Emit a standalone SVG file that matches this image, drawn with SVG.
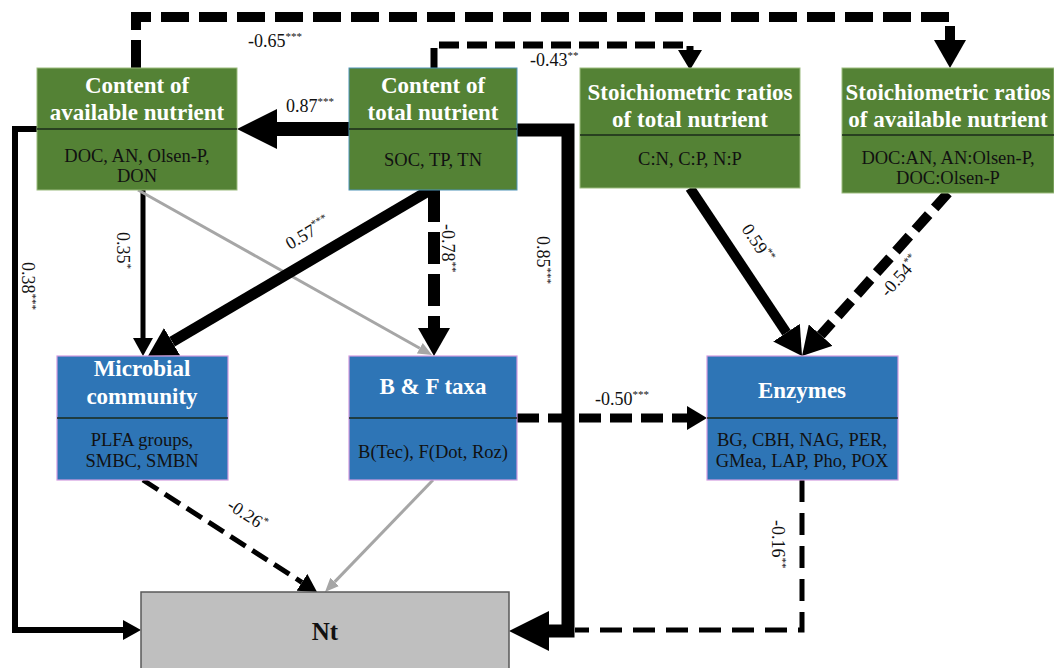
<svg xmlns="http://www.w3.org/2000/svg" width="1054" height="668" viewBox="0 0 1054 668">
<style>
.green{fill:#548235;stroke:#9bbb7f;stroke-width:1}
.blue{fill:#2e75b6;stroke:#d39be0;stroke-width:1.2}
.gray{fill:#bfbfbf;stroke:#595959;stroke-width:1.5}
.div{stroke:#1a2a1a;stroke-width:1.5}
text{font-family:'Liberation Serif','DejaVu Serif',serif}
.title{font-weight:bold;font-size:23px;fill:#ffffff;text-anchor:middle}
.sub{font-size:18.5px;fill:#111111;text-anchor:middle}
.lbl{font-size:18px;fill:#111111}
.sup{font-size:11px}
.c{fill:none;stroke:#000;stroke-linejoin:miter;stroke-linecap:butt}
.g{fill:none;stroke:#a6a6a6;stroke-width:3}
</style>
<defs>
<marker id="aBig" markerUnits="userSpaceOnUse" markerWidth="40" markerHeight="40" viewBox="0 0 40 40" refX="0" refY="20" orient="auto"><path d="M0,0 L40,20 L0,40 z" fill="#000"/></marker>
<marker id="aL" markerUnits="userSpaceOnUse" markerWidth="28" markerHeight="32" viewBox="0 0 28 32" refX="0" refY="16" orient="auto"><path d="M0,0 L28,16 L0,32 z" fill="#000"/></marker>
<marker id="aM" markerUnits="userSpaceOnUse" markerWidth="20" markerHeight="24" viewBox="0 0 20 24" refX="0" refY="12" orient="auto"><path d="M0,0 L20,12 L0,24 z" fill="#000"/></marker>
<marker id="aS" markerUnits="userSpaceOnUse" markerWidth="18" markerHeight="20" viewBox="0 0 18 20" refX="0" refY="10" orient="auto"><path d="M0,0 L18,10 L0,20 z" fill="#000"/></marker>
<marker id="aG" markerUnits="userSpaceOnUse" markerWidth="14" markerHeight="12" viewBox="0 0 14 12" refX="0" refY="6" orient="auto"><path d="M0,0 L14,6 L0,12 z" fill="#a6a6a6"/></marker>
</defs>

<g id="connectors">
<path class="c" d="M136,68 V17 H950 V40" stroke-width="10" stroke-dasharray="28 10" marker-end="url(#aL)"/>
<path class="c" d="M434,68 V45 H690 V50" stroke-width="7" stroke-dasharray="20 8" marker-end="url(#aM)"/>
<path class="c" d="M349,129 H277" stroke-width="14" marker-end="url(#aBig)"/>
<path class="c" d="M517,130 H568 V631 H549" stroke-width="13" marker-end="url(#aBig)"/>
<path class="c" d="M37,129 H15 V630 H123" stroke-width="6" marker-end="url(#aS)"/>
<path class="c" d="M143,190 V338" stroke-width="5" marker-end="url(#aS)"/>
<path class="g" d="M138,190 L419.8,348.2" marker-end="url(#aG)"/>
<path class="c" d="M430,190 L172.1,341.8" stroke-width="11" marker-end="url(#aL)"/>
<path class="c" d="M434,190 V328" stroke-width="12" stroke-dasharray="32 10" marker-end="url(#aL)"/>
<path class="c" d="M690,188 L786.5,332.7" stroke-width="10" marker-end="url(#aL)"/>
<path class="c" d="M948,193 L820.7,335.1" stroke-width="10" stroke-dasharray="20 9" marker-end="url(#aL)"/>
<path class="c" d="M517,418 H687" stroke-width="9" stroke-dasharray="22 9" marker-end="url(#aM)"/>
<path class="c" d="M143,480 L301.9,582.3" stroke-width="5" stroke-dasharray="18 8" marker-end="url(#aS)"/>
<path class="g" d="M433,480 L334.7,581.9" marker-end="url(#aG)"/>
<path class="c" d="M802,480 V630 H575" stroke-width="5" stroke-dasharray="22 11"/>

<text class="lbl" x="248" y="47">-0.65<tspan class="sup" dy="-7">***</tspan></text>
<text class="lbl" x="530" y="66">-0.43<tspan class="sup" dy="-7">**</tspan></text>
<text class="lbl" x="286" y="112">0.87<tspan class="sup" dy="-7">***</tspan></text>
<text class="lbl" transform="translate(22,262) rotate(90)">0.38<tspan class="sup" dy="-7">***</tspan></text>
<text class="lbl" transform="translate(117,232) rotate(90)">0.35<tspan class="sup" dy="-7">*</tspan></text>
<text class="lbl" transform="translate(290,250) rotate(-30.5)">0.57<tspan class="sup" dy="-7">***</tspan></text>
<text class="lbl" transform="translate(442,224) rotate(90)">-0.78<tspan class="sup" dy="-7">**</tspan></text>
<text class="lbl" transform="translate(537,236) rotate(90)">0.85<tspan class="sup" dy="-7">***</tspan></text>
<text class="lbl" transform="translate(741,229) rotate(56)">0.59<tspan class="sup" dy="-7">**</tspan></text>
<text class="lbl" transform="translate(888,298) rotate(-48)">-0.54<tspan class="sup" dy="-7">**</tspan></text>
<text class="lbl" x="595" y="405">-0.50<tspan class="sup" dy="-7">***</tspan></text>
<text class="lbl" transform="translate(226,508) rotate(33)">-0.26<tspan class="sup" dy="-7">*</tspan></text>
<text class="lbl" transform="translate(772,520) rotate(90)">-0.16<tspan class="sup" dy="-7">**</tspan></text>
</g>

<g id="node-available">
<rect class="green" x="37" y="68" width="200" height="122"/>
<line class="div" x1="37" y1="129" x2="237" y2="129"/>
<text class="title" x="137" y="93">Content of</text>
<text class="title" x="137" y="120">available nutrient</text>
<text class="sub" x="137" y="162">DOC, AN, Olsen-P,</text>
<text class="sub" x="137" y="182">DON</text>
</g>

<g id="node-total">
<rect class="green" x="349" y="68" width="168" height="122" style="stroke:#4f93b8"/>
<line class="div" x1="349" y1="129" x2="517" y2="129"/>
<text class="title" x="433" y="93">Content of</text>
<text class="title" x="433" y="120">total nutrient</text>
<text class="sub" x="433" y="166">SOC, TP, TN</text>
</g>

<g id="node-stoich-total">
<rect class="green" x="580" y="68" width="220" height="120"/>
<line class="div" x1="580" y1="135" x2="800" y2="135"/>
<text class="title" x="690" y="100">Stoichiometric ratios</text>
<text class="title" x="690" y="127">of total nutrient</text>
<text class="sub" x="690" y="165">C:N, C:P, N:P</text>
</g>

<g id="node-stoich-available">
<rect class="green" x="842" y="68" width="212" height="125"/>
<line class="div" x1="842" y1="135" x2="1054" y2="135"/>
<text class="title" x="948" y="100">Stoichiometric ratios</text>
<text class="title" x="948" y="127">of available nutrient</text>
<text class="sub" x="948" y="164">DOC:AN, AN:Olsen-P,</text>
<text class="sub" x="948" y="184">DOC:Olsen-P</text>
</g>

<g id="node-microbial">
<rect class="blue" x="57" y="356" width="171" height="124"/>
<line class="div" x1="57" y1="418" x2="228" y2="418"/>
<text class="title" x="142" y="376">Microbial</text>
<text class="title" x="142" y="404">community</text>
<text class="sub" x="142" y="446">PLFA groups,</text>
<text class="sub" x="142" y="467">SMBC, SMBN</text>
</g>

<g id="node-bf">
<rect class="blue" x="349" y="356" width="168" height="124"/>
<line class="div" x1="349" y1="418" x2="517" y2="418"/>
<text class="title" x="433" y="394">B &amp; F taxa</text>
<text class="sub" x="433" y="458">B(Tec), F(Dot, Roz)</text>
</g>

<g id="node-enzymes">
<rect class="blue" x="707" y="356" width="191" height="124"/>
<line class="div" x1="707" y1="418" x2="898" y2="418"/>
<text class="title" x="802" y="398">Enzymes</text>
<text class="sub" x="802" y="446">BG, CBH, NAG,  PER,</text>
<text class="sub" x="802" y="467">GMea, LAP, Pho, POX</text>
</g>

<g id="node-nt">
<rect class="gray" x="141" y="592" width="368" height="80"/>
<text class="title" x="325" y="640" style="fill:#111111;font-size:25px">Nt</text>
</g>
</svg>
